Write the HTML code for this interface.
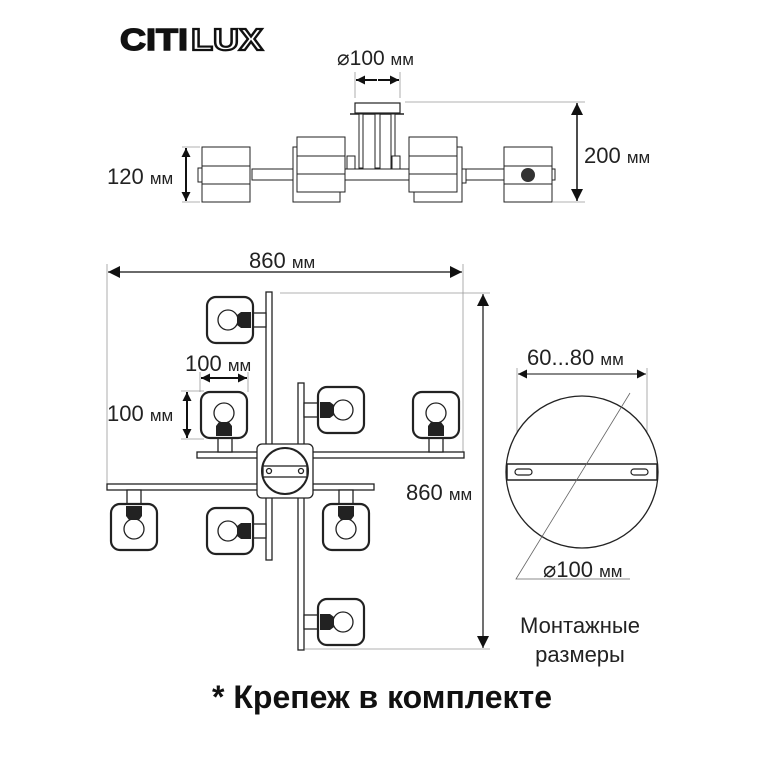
<!DOCTYPE html>
<html><head><meta charset="utf-8"><style>
html,body{margin:0;padding:0;background:#fff;}
svg{display:block;}
text{font-family:"Liberation Sans",sans-serif;fill:#222;}
</style></head><body>
<svg width="767" height="767" viewBox="0 0 767 767" xmlns="http://www.w3.org/2000/svg">
<defs>
<marker id="a" viewBox="0 0 10 10" refX="10" refY="5" markerWidth="10" markerHeight="9" orient="auto-start-reverse" markerUnits="userSpaceOnUse"><path d="M0,0 L10,5 L0,10 z" fill="#111"/></marker>
<marker id="b" viewBox="0 0 10 10" refX="10" refY="5" markerWidth="14" markerHeight="12" orient="auto-start-reverse" markerUnits="userSpaceOnUse"><path d="M0,0 L10,5 L0,10 z" fill="#111"/></marker>
<g id="lamp">
<rect x="-23" y="-23" width="46" height="46" rx="9" fill="#fff" stroke="#222" stroke-width="2.2"/>
<circle cx="-2" cy="0" r="10" fill="#fff" stroke="#222" stroke-width="1.3"/>
<path d="M7,-5 L11,-8 L21,-8 L21,8 L11,8 L7,5 z" fill="#222"/>
</g>
</defs>

<!-- logo -->
<text x="120" y="50" font-size="31" font-weight="bold" textLength="68" lengthAdjust="spacingAndGlyphs" style="fill:#111;stroke:#111;stroke-width:1.5">CITI</text>
<text x="191" y="50" font-size="31" font-weight="bold" textLength="72" lengthAdjust="spacingAndGlyphs" style="fill:#fff;stroke:#111;stroke-width:2.2">LUX</text>

<!-- top view -->
<text x="337" y="65" font-size="21">⌀100 <tspan font-size="17">мм</tspan></text>
<line x1="355" y1="72" x2="355" y2="98" stroke="#999" stroke-width="0.8"/>
<line x1="400" y1="72" x2="400" y2="98" stroke="#999" stroke-width="0.8"/>
<line x1="356" y1="80" x2="377" y2="80" stroke="#111" stroke-width="2" marker-start="url(#a)"/>
<line x1="378" y1="80" x2="399" y2="80" stroke="#111" stroke-width="2" marker-end="url(#a)"/>
<rect x="355" y="103" width="45" height="10" fill="#fff" stroke="#222" stroke-width="1.2"/>
<line x1="350" y1="114" x2="404" y2="114" stroke="#222" stroke-width="1.5"/>
<g stroke="#222" stroke-width="1" fill="#fff">
<rect x="359" y="114" width="4" height="54"/><rect x="375" y="114" width="5" height="54"/><rect x="391" y="114" width="4" height="54"/>
<rect x="252" y="169" width="303" height="11"/>
<rect x="347" y="156" width="8" height="13"/><rect x="392" y="156" width="8" height="13"/>
<rect x="198" y="168" width="5" height="14"/><rect x="461" y="169" width="5" height="14"/>
<rect x="202" y="147" width="48" height="55"/><line x1="202" y1="166" x2="250" y2="166"/><line x1="202" y1="184" x2="250" y2="184"/>
<rect x="293" y="147" width="47" height="55"/>
<rect x="297" y="137" width="48" height="55"/><line x1="297" y1="156" x2="345" y2="156"/><line x1="297" y1="174" x2="345" y2="174"/>
<rect x="414" y="147" width="48" height="55"/>
<rect x="409" y="137" width="48" height="55"/><line x1="409" y1="156" x2="457" y2="156"/><line x1="409" y1="174" x2="457" y2="174"/>
<rect x="504" y="147" width="48" height="55"/><line x1="504" y1="166" x2="552" y2="166"/><line x1="504" y1="184" x2="552" y2="184"/>
<rect x="345" y="169" width="64" height="11"/>
</g>
<ellipse cx="528" cy="175" rx="7" ry="7" fill="#333"/>
<text x="107" y="184" font-size="22">120 <tspan font-size="17">мм</tspan></text>
<line x1="182" y1="147" x2="200" y2="147" stroke="#999" stroke-width="0.8"/>
<line x1="182" y1="202" x2="200" y2="202" stroke="#999" stroke-width="0.8"/>
<line x1="186" y1="148" x2="186" y2="175" stroke="#111" stroke-width="2" marker-start="url(#a)"/>
<line x1="186" y1="175" x2="186" y2="201" stroke="#111" stroke-width="2" marker-end="url(#a)"/>
<line x1="405" y1="102" x2="585" y2="102" stroke="#999" stroke-width="0.8"/>
<line x1="553" y1="202" x2="585" y2="202" stroke="#999" stroke-width="0.8"/>
<line x1="577" y1="103" x2="577" y2="201" stroke="#111" stroke-width="1.5" marker-start="url(#b)" marker-end="url(#b)"/>
<text x="584" y="163" font-size="22">200 <tspan font-size="17">мм</tspan></text>

<!-- plan view dims -->
<text x="249" y="268" font-size="22">860 <tspan font-size="17">мм</tspan></text>
<line x1="107" y1="264" x2="107" y2="485" stroke="#999" stroke-width="0.8"/>
<line x1="463" y1="264" x2="463" y2="452" stroke="#999" stroke-width="0.8"/>
<line x1="108" y1="272" x2="462" y2="272" stroke="#111" stroke-width="1.2" marker-start="url(#b)" marker-end="url(#b)"/>
<line x1="280" y1="293" x2="490" y2="293" stroke="#999" stroke-width="0.8"/>
<line x1="305" y1="649" x2="490" y2="649" stroke="#999" stroke-width="0.8"/>
<line x1="483" y1="294" x2="483" y2="648" stroke="#111" stroke-width="1.2" marker-start="url(#b)" marker-end="url(#b)"/>
<text x="406" y="500" font-size="22">860 <tspan font-size="17">мм</tspan></text>

<!-- plan view structure -->
<g stroke="#222" stroke-width="1.3" fill="#fff">
<rect x="266" y="292" width="6" height="268"/>
<rect x="298" y="383" width="6" height="267"/>
<rect x="197" y="452" width="267" height="6"/>
<rect x="107" y="484" width="267" height="6"/>
<rect x="252" y="313" width="14" height="14"/>
<rect x="218" y="438" width="14" height="14"/>
<rect x="304" y="403" width="14" height="14"/>
<rect x="429" y="438" width="14" height="14"/>
<rect x="127" y="490" width="14" height="14"/>
<rect x="252" y="524" width="14" height="14"/>
<rect x="339" y="490" width="14" height="14"/>
<rect x="304" y="615" width="14" height="14"/>
<rect x="257" y="444" width="56" height="54" rx="5"/>
<circle cx="285" cy="471" r="23" stroke-width="2"/>
<rect x="263" y="466" width="44" height="11"/>
<circle cx="269" cy="471" r="2.5"/><circle cx="301" cy="471" r="2.5"/>
</g>
<use href="#lamp" transform="translate(230,320)"/>
<use href="#lamp" transform="translate(224,415) rotate(90)"/>
<use href="#lamp" transform="translate(341,410) rotate(180)"/>
<use href="#lamp" transform="translate(436,415) rotate(90)"/>
<use href="#lamp" transform="translate(134,527) rotate(-90)"/>
<use href="#lamp" transform="translate(230,531)"/>
<use href="#lamp" transform="translate(346,527) rotate(-90)"/>
<use href="#lamp" transform="translate(341,622) rotate(180)"/>

<text x="185" y="371" font-size="22">100 <tspan font-size="17">мм</tspan></text>
<line x1="200" y1="372" x2="200" y2="392" stroke="#999" stroke-width="0.8"/>
<line x1="248" y1="372" x2="248" y2="392" stroke="#999" stroke-width="0.8"/>
<line x1="201" y1="378" x2="224" y2="378" stroke="#111" stroke-width="2" marker-start="url(#a)"/>
<line x1="224" y1="378" x2="247" y2="378" stroke="#111" stroke-width="2" marker-end="url(#a)"/>
<text x="107" y="421" font-size="22">100 <tspan font-size="17">мм</tspan></text>
<line x1="181" y1="391" x2="204" y2="391" stroke="#999" stroke-width="0.8"/>
<line x1="181" y1="439" x2="204" y2="439" stroke="#999" stroke-width="0.8"/>
<line x1="187" y1="392" x2="187" y2="415" stroke="#111" stroke-width="2" marker-start="url(#a)"/>
<line x1="187" y1="415" x2="187" y2="438" stroke="#111" stroke-width="2" marker-end="url(#a)"/>

<!-- mounting plate -->
<text x="527" y="365" font-size="22">60...80 <tspan font-size="17">мм</tspan></text>
<line x1="517" y1="368" x2="517" y2="470" stroke="#999" stroke-width="0.8"/>
<line x1="647" y1="368" x2="647" y2="470" stroke="#999" stroke-width="0.8"/>
<line x1="518" y1="374" x2="646" y2="374" stroke="#111" stroke-width="1" marker-start="url(#a)" marker-end="url(#a)"/>
<circle cx="582" cy="472" r="76" fill="#fff" stroke="#222" stroke-width="1.3"/>
<rect x="507" y="464" width="150" height="16" fill="#fff" stroke="#222" stroke-width="1.5"/>
<rect x="515" y="469" width="17" height="6" rx="3" fill="#fff" stroke="#222" stroke-width="1.2"/>
<rect x="631" y="469" width="17" height="6" rx="3" fill="#fff" stroke="#222" stroke-width="1.2"/>
<polyline points="630,393 516,579 630,579" fill="none" stroke="#666" stroke-width="0.8"/>
<text x="543" y="577" font-size="22">⌀100 <tspan font-size="17">мм</tspan></text>
<text x="580" y="633" font-size="22" text-anchor="middle">Монтажные</text>
<text x="580" y="662" font-size="22" text-anchor="middle">размеры</text>

<text x="382" y="708" font-size="32" font-weight="bold" text-anchor="middle" style="fill:#111">* Крепеж в комплекте</text>
</svg>
</body></html>
